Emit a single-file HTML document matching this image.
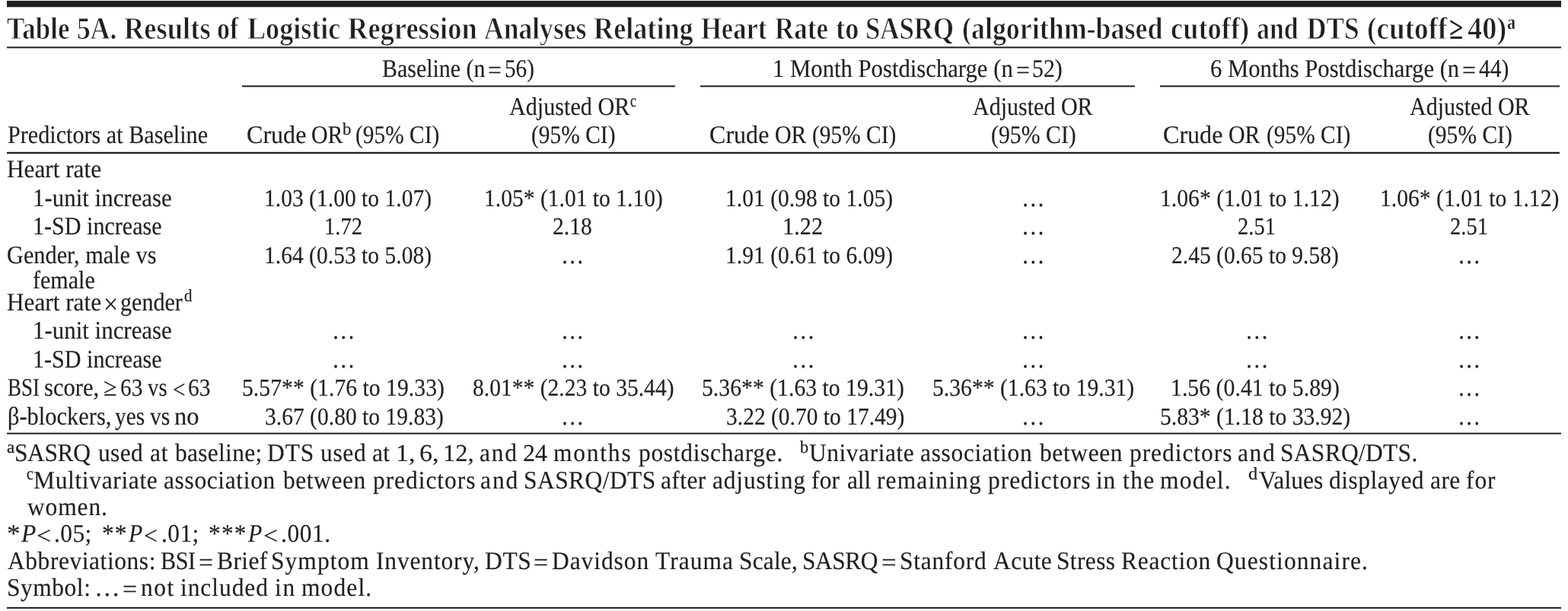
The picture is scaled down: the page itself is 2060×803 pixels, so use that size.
<!DOCTYPE html>
<html lang="en">
<head>
<meta charset="utf-8">
<title>Table 5A</title>
<style>
html,body{margin:0;padding:0;background:#fff}
body{width:2060px;height:803px;position:relative;overflow:hidden;font-family:"Liberation Serif","DejaVu Serif",serif;color:#211f1f}
.t{position:absolute;white-space:nowrap;line-height:0;transform-origin:0 0;font-kerning:normal;text-rendering:geometricPrecision}
.b{font-weight:bold;-webkit-text-stroke:0.85px #fff}
.bb{font-weight:bold}
.sb{font-weight:bold;-webkit-text-stroke:0.3px #fff}
.s{-webkit-text-stroke:0.25px #211f1f}
.n{-webkit-text-stroke:0.15px #211f1f}
.r{position:absolute}
i{font-style:italic}
</style>
</head>
<body>
<div class="rules">
<div class="r" style="left:9px;top:0px;width:2042px;height:10px;background:linear-gradient(to bottom,#f6f6f6 0px 1px,#1f1e1d 1px 2px,#1f1e1d 2px 3px,#1f1e1d 3px 4px,#1f1e1d 4px 5px,#1f1e1d 5px 6px,#1f1e1d 6px 7px,#1f1e1d 7px 8px,#1f1e1d 8px 9px,#bcbcbb 9px 10px)"></div>
<div class="r" style="left:9px;top:61px;width:2042px;height:3px;background:linear-gradient(to bottom,#6d6d6c 0px 1px,#1f1e1d 1px 2px,#b1b0b0 2px 3px)"></div>
<div class="r" style="left:318px;top:112px;width:569px;height:3px;background:linear-gradient(to bottom,#6d6d6c 0px 1px,#1f1e1d 1px 2px,#b1b0b0 2px 3px)"></div>
<div class="r" style="left:920px;top:112px;width:571px;height:3px;background:linear-gradient(to bottom,#6d6d6c 0px 1px,#1f1e1d 1px 2px,#b1b0b0 2px 3px)"></div>
<div class="r" style="left:1524px;top:112px;width:525px;height:3px;background:linear-gradient(to bottom,#6d6d6c 0px 1px,#1f1e1d 1px 2px,#b1b0b0 2px 3px)"></div>
<div class="r" style="left:9px;top:199px;width:2040px;height:3px;background:linear-gradient(to bottom,#c7c7c6 0px 1px,#1f1e1d 1px 2px,#1f1e1d 2px 3px)"></div>
<div class="r" style="left:9px;top:568px;width:2042px;height:3px;background:linear-gradient(to bottom,#bcbcbb 0px 1px,#1f1e1d 1px 2px,#6d6d6c 2px 3px)"></div>
<div class="r" style="left:9px;top:797px;width:2042px;height:3px;background:linear-gradient(to bottom,#dddddd 0px 1px,#1f1e1d 1px 2px,#353434 2px 3px)"></div>
</div>
<div class="caption">
<div class="t b" style="left:9.15px;top:37px;font-size:41.15px;transform:scaleX(0.8534)">Table</div>
<div class="t b" style="left:100.77px;top:37px;font-size:41.15px;transform:scaleX(0.8654)">5A.</div>
<div class="t b" style="left:162.57px;top:37px;font-size:41.15px;transform:scaleX(0.8876)">Results</div>
<div class="t b" style="left:285.35px;top:37px;font-size:41.15px;transform:scaleX(0.8273)">of</div>
<div class="t b" style="left:325.08px;top:37px;font-size:41.15px;transform:scaleX(0.8780)">Logistic</div>
<div class="t b" style="left:457.07px;top:37px;font-size:41.15px;transform:scaleX(0.8878)">Regression</div>
<div class="t b" style="left:636.14px;top:37px;font-size:41.15px;transform:scaleX(0.8644)">Analyses</div>
<div class="t b" style="left:780.08px;top:37px;font-size:41.15px;transform:scaleX(0.8798)">Relating</div>
<div class="t b" style="left:921.38px;top:37px;font-size:41.15px;transform:scaleX(0.8394)">Heart</div>
<div class="t b" style="left:1017.62px;top:37px;font-size:41.15px;transform:scaleX(0.8508)">Rate</div>
<div class="t b" style="left:1098.36px;top:37px;font-size:41.15px;transform:scaleX(0.8856)">to</div>
<div class="t b" style="left:1136.99px;top:37px;font-size:41.15px;transform:scaleX(0.8463)">SASRQ</div>
<div class="t b" style="left:1263.71px;top:37px;font-size:41.15px;transform:scaleX(0.8732)">(algorithm-based</div>
<div class="t b" style="left:1538.23px;top:37px;font-size:41.15px;transform:scaleX(0.8858)">cutoff)</div>
<div class="t b" style="left:1651.13px;top:37px;font-size:41.15px;transform:scaleX(0.8246)">and</div>
<div class="t b" style="left:1717.11px;top:37px;font-size:41.15px;transform:scaleX(0.8581)">DTS</div>
<div class="t b" style="left:1795.89px;top:37px;font-size:41.15px;transform:scaleX(0.9057)">(cutoff</div>
<div class="t bb" style="left:1904.14px;top:37px;font-size:41.15px;transform:scaleX(0.8147)">≥</div>
<div class="t b" style="left:1927.82px;top:37px;font-size:41.15px;transform:scaleX(0.9339)">40)</div>
<div class="t sb" style="left:1979.97px;top:29px;font-size:27.0px;transform:scaleX(0.8250)">a</div>
</div>
<div class="thead">
<div class="t n" style="left:501.60px;top:91px;font-size:33.3px;transform:scaleX(0.8993)">Baseline (n</div>
<div class="t n" style="left:641.01px;top:93px;font-size:33.3px;transform:scaleX(0.9511)">=</div>
<div class="t n" style="left:663.04px;top:91px;font-size:33.3px;transform:scaleX(0.8780)">56)</div>
<div class="t n" style="left:1014.73px;top:91px;font-size:33.3px;transform:scaleX(0.9218)">1 Month Postdischarge (n</div>
<div class="t n" style="left:1334.65px;top:93px;font-size:33.3px;transform:scaleX(0.9574)">=</div>
<div class="t n" style="left:1355.71px;top:91px;font-size:33.3px;transform:scaleX(0.8963)">52)</div>
<div class="t n" style="left:1590.02px;top:91px;font-size:33.3px;transform:scaleX(0.9204)">6 Months Postdischarge (n</div>
<div class="t n" style="left:1920.90px;top:93px;font-size:33.3px;transform:scaleX(0.9574)">=</div>
<div class="t n" style="left:1943.16px;top:91px;font-size:33.3px;transform:scaleX(0.8858)">44)</div>
<div class="t n" style="left:10.34px;top:178px;font-size:33.3px;transform:scaleX(0.9061)">Predictors at Baseline</div>
<div class="t n" style="left:323.72px;top:178px;font-size:33.3px;transform:scaleX(0.9633)">Crude</div>
<div class="t n" style="left:409.00px;top:178px;font-size:33.3px;transform:scaleX(0.8978)">OR</div>
<div class="t s" style="left:450.20px;top:170px;font-size:23.0px;transform:scaleX(0.9938)">b</div>
<div class="t n" style="left:467.32px;top:178px;font-size:33.3px;transform:scaleX(0.8832)">(95% CI)</div>
<div class="t n" style="left:668.95px;top:141px;font-size:33.3px;transform:scaleX(0.9060)">Adjusted OR</div>
<div class="t s" style="left:827.98px;top:133px;font-size:23.0px;transform:scaleX(0.7778)">c</div>
<div class="t n" style="left:697.57px;top:178px;font-size:33.3px;transform:scaleX(0.8852)">(95% CI)</div>
<div class="t n" style="left:932.47px;top:178px;font-size:33.3px;transform:scaleX(0.9633)">Crude</div>
<div class="t n" style="left:1017.75px;top:178px;font-size:33.3px;transform:scaleX(0.8978)">OR</div>
<div class="t n" style="left:1067.32px;top:178px;font-size:33.3px;transform:scaleX(0.8832)">(95% CI)</div>
<div class="t n" style="left:1278.45px;top:141px;font-size:33.3px;transform:scaleX(0.9017)">Adjusted OR</div>
<div class="t n" style="left:1302.06px;top:178px;font-size:33.3px;transform:scaleX(0.8955)">(95% CI)</div>
<div class="t n" style="left:1528.22px;top:178px;font-size:33.3px;transform:scaleX(0.9633)">Crude</div>
<div class="t n" style="left:1613.50px;top:178px;font-size:33.3px;transform:scaleX(0.8978)">OR</div>
<div class="t n" style="left:1663.57px;top:178px;font-size:33.3px;transform:scaleX(0.8832)">(95% CI)</div>
<div class="t n" style="left:1851.70px;top:141px;font-size:33.3px;transform:scaleX(0.9017)">Adjusted OR</div>
<div class="t n" style="left:1875.57px;top:178px;font-size:33.3px;transform:scaleX(0.8873)">(95% CI)</div>
</div>
<div class="tbody">
<div class="t n" style="left:9.26px;top:223px;font-size:33.3px;transform:scaleX(0.9385)">Heart rate</div>
<div class="t n" style="left:43.01px;top:261px;font-size:33.3px;transform:scaleX(0.9285)">1-unit increase</div>
<div class="t n" style="left:43.09px;top:298px;font-size:33.3px;transform:scaleX(0.9035)">1-SD increase</div>
<div class="t n" style="left:9.29px;top:336px;font-size:33.3px;transform:scaleX(0.9103)">Gender, male vs</div>
<div class="t n" style="left:42.85px;top:369px;font-size:33.3px;transform:scaleX(0.9023)">female</div>
<div class="t n" style="left:9.26px;top:398px;font-size:33.3px;transform:scaleX(0.9385)">Heart rate</div>
<div class="t n" style="left:135.84px;top:401px;font-size:37.0px;transform:scaleX(0.9200)">×</div>
<div class="t n" style="left:158.30px;top:398px;font-size:33.3px;transform:scaleX(0.9034)">gender</div>
<div class="t s" style="left:241.99px;top:389px;font-size:23.0px;transform:scaleX(0.9094)">d</div>
<div class="t n" style="left:43.01px;top:435px;font-size:33.3px;transform:scaleX(0.9285)">1-unit increase</div>
<div class="t n" style="left:43.09px;top:473px;font-size:33.3px;transform:scaleX(0.9035)">1-SD increase</div>
<div class="t n" style="left:10.09px;top:510px;font-size:33.3px;transform:scaleX(0.8074)">BSI</div>
<div class="t n" style="left:58.48px;top:510px;font-size:33.3px;transform:scaleX(0.9186)">score,</div>
<div class="t n" style="left:136.32px;top:510px;font-size:33.3px;transform:scaleX(0.9574)">≥</div>
<div class="t n" style="left:157.88px;top:509px;font-size:32.0px;transform:scaleX(0.9170)">63</div>
<div class="t n" style="left:194.40px;top:510px;font-size:33.3px;transform:scaleX(0.8651)">vs</div>
<div class="t n" style="left:226.83px;top:513px;font-size:33.3px;transform:scaleX(0.8809)">&lt;</div>
<div class="t n" style="left:247.37px;top:509px;font-size:32.0px;transform:scaleX(0.9205)">63</div>
<div class="t n" style="left:9.82px;top:548px;font-size:33.3px;transform:scaleX(0.9141)">β-blockers,</div>
<div class="t n" style="left:151.21px;top:548px;font-size:33.3px;transform:scaleX(0.8791)">yes</div>
<div class="t n" style="left:196.60px;top:548px;font-size:33.3px;transform:scaleX(0.8895)">vs</div>
<div class="t n" style="left:229.45px;top:548px;font-size:33.3px;transform:scaleX(0.9766)">no</div>
<div class="t n" style="left:347.34px;top:260px;font-size:32.0px;transform:scaleX(0.9237)">1.03 (1.00 to 1.07)</div>
<div class="t n" style="left:426.36px;top:297px;font-size:32.0px;transform:scaleX(0.8952)">1.72</div>
<div class="t n" style="left:347.34px;top:335px;font-size:32.0px;transform:scaleX(0.9237)">1.64 (0.53 to 5.08)</div>
<div class="t n" style="left:436.19px;top:435px;font-size:33.3px;transform:scaleX(0.9187)">…</div>
<div class="t n" style="left:436.19px;top:473px;font-size:33.3px;transform:scaleX(0.9187)">…</div>
<div class="t n" style="left:317.70px;top:509px;font-size:32.0px;transform:scaleX(0.9291)">5.57** (1.76 to 19.33)</div>
<div class="t n" style="left:347.52px;top:547px;font-size:32.0px;transform:scaleX(0.9238)">3.67 (0.80 to 19.83)</div>
<div class="t n" style="left:636.29px;top:260px;font-size:32.0px;transform:scaleX(0.9238)">1.05* (1.01 to 1.10)</div>
<div class="t n" style="left:725.76px;top:297px;font-size:32.0px;transform:scaleX(0.9270)">2.18</div>
<div class="t n" style="left:736.97px;top:336px;font-size:33.3px;transform:scaleX(0.9094)">…</div>
<div class="t n" style="left:736.97px;top:435px;font-size:33.3px;transform:scaleX(0.9094)">…</div>
<div class="t n" style="left:736.97px;top:473px;font-size:33.3px;transform:scaleX(0.9094)">…</div>
<div class="t n" style="left:736.97px;top:548px;font-size:33.3px;transform:scaleX(0.9094)">…</div>
<div class="t n" style="left:621.08px;top:509px;font-size:32.0px;transform:scaleX(0.9243)">8.01** (2.23 to 35.44)</div>
<div class="t n" style="left:953.04px;top:260px;font-size:32.0px;transform:scaleX(0.9239)">1.01 (0.98 to 1.05)</div>
<div class="t n" style="left:1028.47px;top:297px;font-size:32.0px;transform:scaleX(0.9484)">1.22</div>
<div class="t n" style="left:953.04px;top:335px;font-size:32.0px;transform:scaleX(0.9239)">1.91 (0.61 to 6.09)</div>
<div class="t n" style="left:1039.94px;top:435px;font-size:33.3px;transform:scaleX(0.9187)">…</div>
<div class="t n" style="left:1039.94px;top:473px;font-size:33.3px;transform:scaleX(0.9187)">…</div>
<div class="t n" style="left:922.20px;top:509px;font-size:32.0px;transform:scaleX(0.9291)">5.36** (1.63 to 19.31)</div>
<div class="t n" style="left:953.77px;top:547px;font-size:32.0px;transform:scaleX(0.9219)">3.22 (0.70 to 17.49)</div>
<div class="t n" style="left:1341.94px;top:261px;font-size:33.3px;transform:scaleX(0.9187)">…</div>
<div class="t n" style="left:1341.94px;top:298px;font-size:33.3px;transform:scaleX(0.9187)">…</div>
<div class="t n" style="left:1341.94px;top:336px;font-size:33.3px;transform:scaleX(0.9187)">…</div>
<div class="t n" style="left:1341.94px;top:435px;font-size:33.3px;transform:scaleX(0.9187)">…</div>
<div class="t n" style="left:1341.94px;top:473px;font-size:33.3px;transform:scaleX(0.9187)">…</div>
<div class="t n" style="left:1341.94px;top:548px;font-size:33.3px;transform:scaleX(0.9187)">…</div>
<div class="t n" style="left:1224.71px;top:509px;font-size:32.0px;transform:scaleX(0.9265)">5.36** (1.63 to 19.31)</div>
<div class="t n" style="left:1523.78px;top:260px;font-size:32.0px;transform:scaleX(0.9268)">1.06* (1.01 to 1.12)</div>
<div class="t n" style="left:1625.81px;top:297px;font-size:32.0px;transform:scaleX(0.8915)">2.51</div>
<div class="t n" style="left:1538.77px;top:335px;font-size:32.0px;transform:scaleX(0.9229)">2.45 (0.65 to 9.58)</div>
<div class="t n" style="left:1635.69px;top:435px;font-size:33.3px;transform:scaleX(0.9187)">…</div>
<div class="t n" style="left:1635.69px;top:473px;font-size:33.3px;transform:scaleX(0.9187)">…</div>
<div class="t n" style="left:1537.52px;top:509px;font-size:32.0px;transform:scaleX(0.9314)">1.56 (0.41 to 5.89)</div>
<div class="t n" style="left:1524.21px;top:547px;font-size:32.0px;transform:scaleX(0.9258)">5.83* (1.18 to 33.92)</div>
<div class="t n" style="left:1812.53px;top:260px;font-size:32.0px;transform:scaleX(0.9258)">1.06* (1.01 to 1.12)</div>
<div class="t n" style="left:1904.56px;top:297px;font-size:32.0px;transform:scaleX(0.8915)">2.51</div>
<div class="t n" style="left:1915.22px;top:336px;font-size:33.3px;transform:scaleX(0.9094)">…</div>
<div class="t n" style="left:1915.22px;top:435px;font-size:33.3px;transform:scaleX(0.9094)">…</div>
<div class="t n" style="left:1915.22px;top:473px;font-size:33.3px;transform:scaleX(0.9094)">…</div>
<div class="t n" style="left:1915.22px;top:510px;font-size:33.3px;transform:scaleX(0.9094)">…</div>
<div class="t n" style="left:1915.22px;top:548px;font-size:33.3px;transform:scaleX(0.9094)">…</div>
</div>
<div class="tfoot">
<div class="t s" style="left:9.33px;top:588px;font-size:23.0px;transform:scaleX(1.0071)">a</div>
<div class="t n" style="left:18.71px;top:596px;font-size:33.3px;letter-spacing:-0.40px;transform:scaleX(0.9450)">SASRQ</div>
<div class="t n" style="left:128.69px;top:596px;font-size:33.3px;letter-spacing:0.35px;transform:scaleX(0.9450)">used</div>
<div class="t n" style="left:196.66px;top:596px;font-size:33.3px;letter-spacing:0.70px;transform:scaleX(0.9450)">at</div>
<div class="t n" style="left:230.00px;top:596px;font-size:33.3px;letter-spacing:0.31px;transform:scaleX(0.9450)">baseline;</div>
<div class="t n" style="left:351.45px;top:596px;font-size:33.3px;letter-spacing:1.01px;transform:scaleX(0.9450)">DTS</div>
<div class="t n" style="left:420.69px;top:596px;font-size:33.3px;letter-spacing:0.70px;transform:scaleX(0.9450)">used</div>
<div class="t n" style="left:489.06px;top:596px;font-size:33.3px;letter-spacing:0.28px;transform:scaleX(0.9450)">at</div>
<div class="t n" style="left:519.79px;top:595px;font-size:32.0px;transform:scaleX(1.0552)">1,</div>
<div class="t n" style="left:550.58px;top:595px;font-size:32.0px;transform:scaleX(1.0645)">6,</div>
<div class="t n" style="left:582.28px;top:595px;font-size:32.0px;transform:scaleX(1.0189)">12,</div>
<div class="t n" style="left:630.45px;top:596px;font-size:33.3px;letter-spacing:1.85px;transform:scaleX(0.9450)">and</div>
<div class="t n" style="left:687.26px;top:595px;font-size:32.0px;transform:scaleX(1.0022)">24</div>
<div class="t n" style="left:727.37px;top:596px;font-size:33.3px;letter-spacing:1.90px;transform:scaleX(0.9450)">months</div>
<div class="t n" style="left:838.69px;top:596px;font-size:33.3px;letter-spacing:0.73px;transform:scaleX(0.9450)">postdischarge.</div>
<div class="t s" style="left:1051.00px;top:588px;font-size:23.0px;transform:scaleX(0.9750)">b</div>
<div class="t n" style="left:1063.37px;top:596px;font-size:33.3px;letter-spacing:0.58px;transform:scaleX(0.9450)">Univariate</div>
<div class="t n" style="left:1209.06px;top:596px;font-size:33.3px;letter-spacing:0.72px;transform:scaleX(0.9450)">association</div>
<div class="t n" style="left:1366.00px;top:596px;font-size:33.3px;letter-spacing:0.66px;transform:scaleX(0.9450)">between</div>
<div class="t n" style="left:1483.68px;top:596px;font-size:33.3px;letter-spacing:1.01px;transform:scaleX(0.9450)">predictors</div>
<div class="t n" style="left:1626.06px;top:596px;font-size:33.3px;letter-spacing:1.75px;transform:scaleX(0.9450)">and</div>
<div class="t n" style="left:1682.11px;top:596px;font-size:33.3px;letter-spacing:0.33px;transform:scaleX(0.9450)">SASRQ/DTS.</div>
<div class="t s" style="left:35.02px;top:623px;font-size:23.0px;transform:scaleX(0.8667)">c</div>
<div class="t n" style="left:44.05px;top:632px;font-size:33.3px;letter-spacing:0.70px;transform:scaleX(0.9450)">Multivariate</div>
<div class="t n" style="left:215.06px;top:632px;font-size:33.3px;letter-spacing:0.68px;transform:scaleX(0.9450)">association</div>
<div class="t n" style="left:372.40px;top:632px;font-size:33.3px;letter-spacing:0.59px;transform:scaleX(0.9450)">between</div>
<div class="t n" style="left:489.69px;top:632px;font-size:33.3px;letter-spacing:1.01px;transform:scaleX(0.9450)">predictors</div>
<div class="t n" style="left:631.05px;top:632px;font-size:33.3px;letter-spacing:2.06px;transform:scaleX(0.9450)">and</div>
<div class="t n" style="left:688.11px;top:632px;font-size:33.3px;letter-spacing:0.48px;transform:scaleX(0.9450)">SASRQ/DTS</div>
<div class="t n" style="left:868.05px;top:632px;font-size:33.3px;letter-spacing:0.43px;transform:scaleX(0.9450)">after</div>
<div class="t n" style="left:936.45px;top:632px;font-size:33.3px;letter-spacing:0.87px;transform:scaleX(0.9450)">adjusting</div>
<div class="t n" style="left:1066.06px;top:632px;font-size:33.3px;letter-spacing:0.21px;transform:scaleX(0.9450)">for</div>
<div class="t n" style="left:1113.06px;top:632px;font-size:33.3px;letter-spacing:-0.17px;transform:scaleX(0.9450)">all</div>
<div class="t n" style="left:1152.37px;top:632px;font-size:33.3px;letter-spacing:1.20px;transform:scaleX(0.9450)">remaining</div>
<div class="t n" style="left:1298.09px;top:632px;font-size:33.3px;letter-spacing:1.03px;transform:scaleX(0.9450)">predictors</div>
<div class="t n" style="left:1440.37px;top:632px;font-size:33.3px;letter-spacing:0.73px;transform:scaleX(0.9450)">in</div>
<div class="t n" style="left:1474.68px;top:632px;font-size:33.3px;letter-spacing:1.50px;transform:scaleX(0.9450)">the</div>
<div class="t n" style="left:1524.37px;top:632px;font-size:33.3px;letter-spacing:1.31px;transform:scaleX(0.9450)">model.</div>
<div class="t s" style="left:1639.59px;top:623px;font-size:23.0px;transform:scaleX(1.0594)">d</div>
<div class="t n" style="left:1653.68px;top:632px;font-size:33.3px;letter-spacing:0.10px;transform:scaleX(0.9450)">Values</div>
<div class="t n" style="left:1745.65px;top:632px;font-size:33.3px;letter-spacing:0.53px;transform:scaleX(0.9450)">displayed</div>
<div class="t n" style="left:1878.65px;top:632px;font-size:33.3px;letter-spacing:0.46px;transform:scaleX(0.9450)">are</div>
<div class="t n" style="left:1926.06px;top:632px;font-size:33.3px;letter-spacing:0.96px;transform:scaleX(0.9450)">for</div>
<div class="t n" style="left:36.00px;top:667px;font-size:33.3px;letter-spacing:0.93px;transform:scaleX(0.9450)">women.</div>
<div class="t n" style="left:9.25px;top:702px;font-size:33.3px;transform:scaleX(1.0500)">*</div>
<div class="t n" style="left:28.32px;top:702px;font-size:33.3px;transform:scaleX(0.9500)"><i>P</i></div>
<div class="t n" style="left:48.30px;top:705px;font-size:33.3px;transform:scaleX(1.0213)">&lt;</div>
<div class="t n" style="left:71.11px;top:702px;font-size:33.3px;letter-spacing:0.43px;transform:scaleX(0.9450)">.05;</div>
<div class="t n" style="left:134.02px;top:702px;font-size:33.3px;letter-spacing:1.11px;transform:scaleX(0.9450)">**</div>
<div class="t n" style="left:169.30px;top:702px;font-size:33.3px;transform:scaleX(0.9000)"><i>P</i></div>
<div class="t n" style="left:189.40px;top:705px;font-size:33.3px;transform:scaleX(0.9574)">&lt;</div>
<div class="t n" style="left:211.71px;top:702px;font-size:33.3px;letter-spacing:0.43px;transform:scaleX(0.9450)">.01;</div>
<div class="t n" style="left:274.43px;top:702px;font-size:33.3px;letter-spacing:1.22px;transform:scaleX(0.9450)">***</div>
<div class="t n" style="left:326.30px;top:702px;font-size:33.3px;transform:scaleX(0.9000)"><i>P</i></div>
<div class="t n" style="left:346.30px;top:705px;font-size:33.3px;transform:scaleX(1.0213)">&lt;</div>
<div class="t n" style="left:369.11px;top:702px;font-size:33.3px;letter-spacing:0.55px;transform:scaleX(0.9450)">.001.</div>
<div class="t n" style="left:10.09px;top:738px;font-size:33.3px;letter-spacing:0.60px;transform:scaleX(0.9450)">Abbreviations:</div>
<div class="t n" style="left:211.10px;top:738px;font-size:33.3px;letter-spacing:-0.50px;transform:scaleX(0.9041)">BSI</div>
<div class="t n" style="left:261.30px;top:740px;font-size:33.3px;transform:scaleX(1.0213)">=</div>
<div class="t n" style="left:285.45px;top:738px;font-size:33.3px;letter-spacing:0.44px;transform:scaleX(0.9450)">Brief</div>
<div class="t n" style="left:356.11px;top:738px;font-size:33.3px;letter-spacing:1.13px;transform:scaleX(0.9450)">Symptom</div>
<div class="t n" style="left:494.06px;top:738px;font-size:33.3px;letter-spacing:0.90px;transform:scaleX(0.9450)">Inventory,</div>
<div class="t n" style="left:637.05px;top:738px;font-size:33.3px;letter-spacing:0.69px;transform:scaleX(0.9450)">DTS</div>
<div class="t n" style="left:701.30px;top:740px;font-size:33.3px;transform:scaleX(1.0213)">=</div>
<div class="t n" style="left:725.05px;top:738px;font-size:33.3px;letter-spacing:1.00px;transform:scaleX(0.9450)">Davidson</div>
<div class="t n" style="left:861.37px;top:738px;font-size:33.3px;letter-spacing:1.11px;transform:scaleX(0.9450)">Trauma</div>
<div class="t n" style="left:971.11px;top:738px;font-size:33.3px;letter-spacing:0.18px;transform:scaleX(0.9450)">Scale,</div>
<div class="t n" style="left:1054.11px;top:738px;font-size:33.3px;letter-spacing:-0.50px;transform:scaleX(0.9448)">SASRQ</div>
<div class="t n" style="left:1158.26px;top:740px;font-size:33.3px;transform:scaleX(1.0468)">=</div>
<div class="t n" style="left:1181.51px;top:738px;font-size:33.3px;letter-spacing:0.82px;transform:scaleX(0.9450)">Stanford</div>
<div class="t n" style="left:1304.68px;top:738px;font-size:33.3px;letter-spacing:0.45px;transform:scaleX(0.9450)">Acute</div>
<div class="t n" style="left:1388.11px;top:738px;font-size:33.3px;letter-spacing:0.39px;transform:scaleX(0.9450)">Stress</div>
<div class="t n" style="left:1473.06px;top:738px;font-size:33.3px;letter-spacing:0.82px;transform:scaleX(0.9450)">Reaction</div>
<div class="t n" style="left:1598.34px;top:738px;font-size:33.3px;letter-spacing:1.19px;transform:scaleX(0.9450)">Questionnaire.</div>
<div class="t n" style="left:8.51px;top:773px;font-size:33.3px;letter-spacing:0.57px;transform:scaleX(0.9450)">Symbol:</div>
<div class="t n" style="left:123.62px;top:773px;font-size:33.3px;transform:scaleX(1.0125)">…</div>
<div class="t n" style="left:161.30px;top:775px;font-size:33.3px;transform:scaleX(1.0213)">=</div>
<div class="t n" style="left:184.97px;top:773px;font-size:33.3px;letter-spacing:1.60px;transform:scaleX(0.9450)">not</div>
<div class="t n" style="left:237.37px;top:773px;font-size:33.3px;letter-spacing:1.00px;transform:scaleX(0.9450)">included</div>
<div class="t n" style="left:361.37px;top:773px;font-size:33.3px;letter-spacing:1.79px;transform:scaleX(0.9450)">in</div>
<div class="t n" style="left:396.37px;top:773px;font-size:33.3px;letter-spacing:1.19px;transform:scaleX(0.9450)">model.</div>
</div>
</body>
</html>
